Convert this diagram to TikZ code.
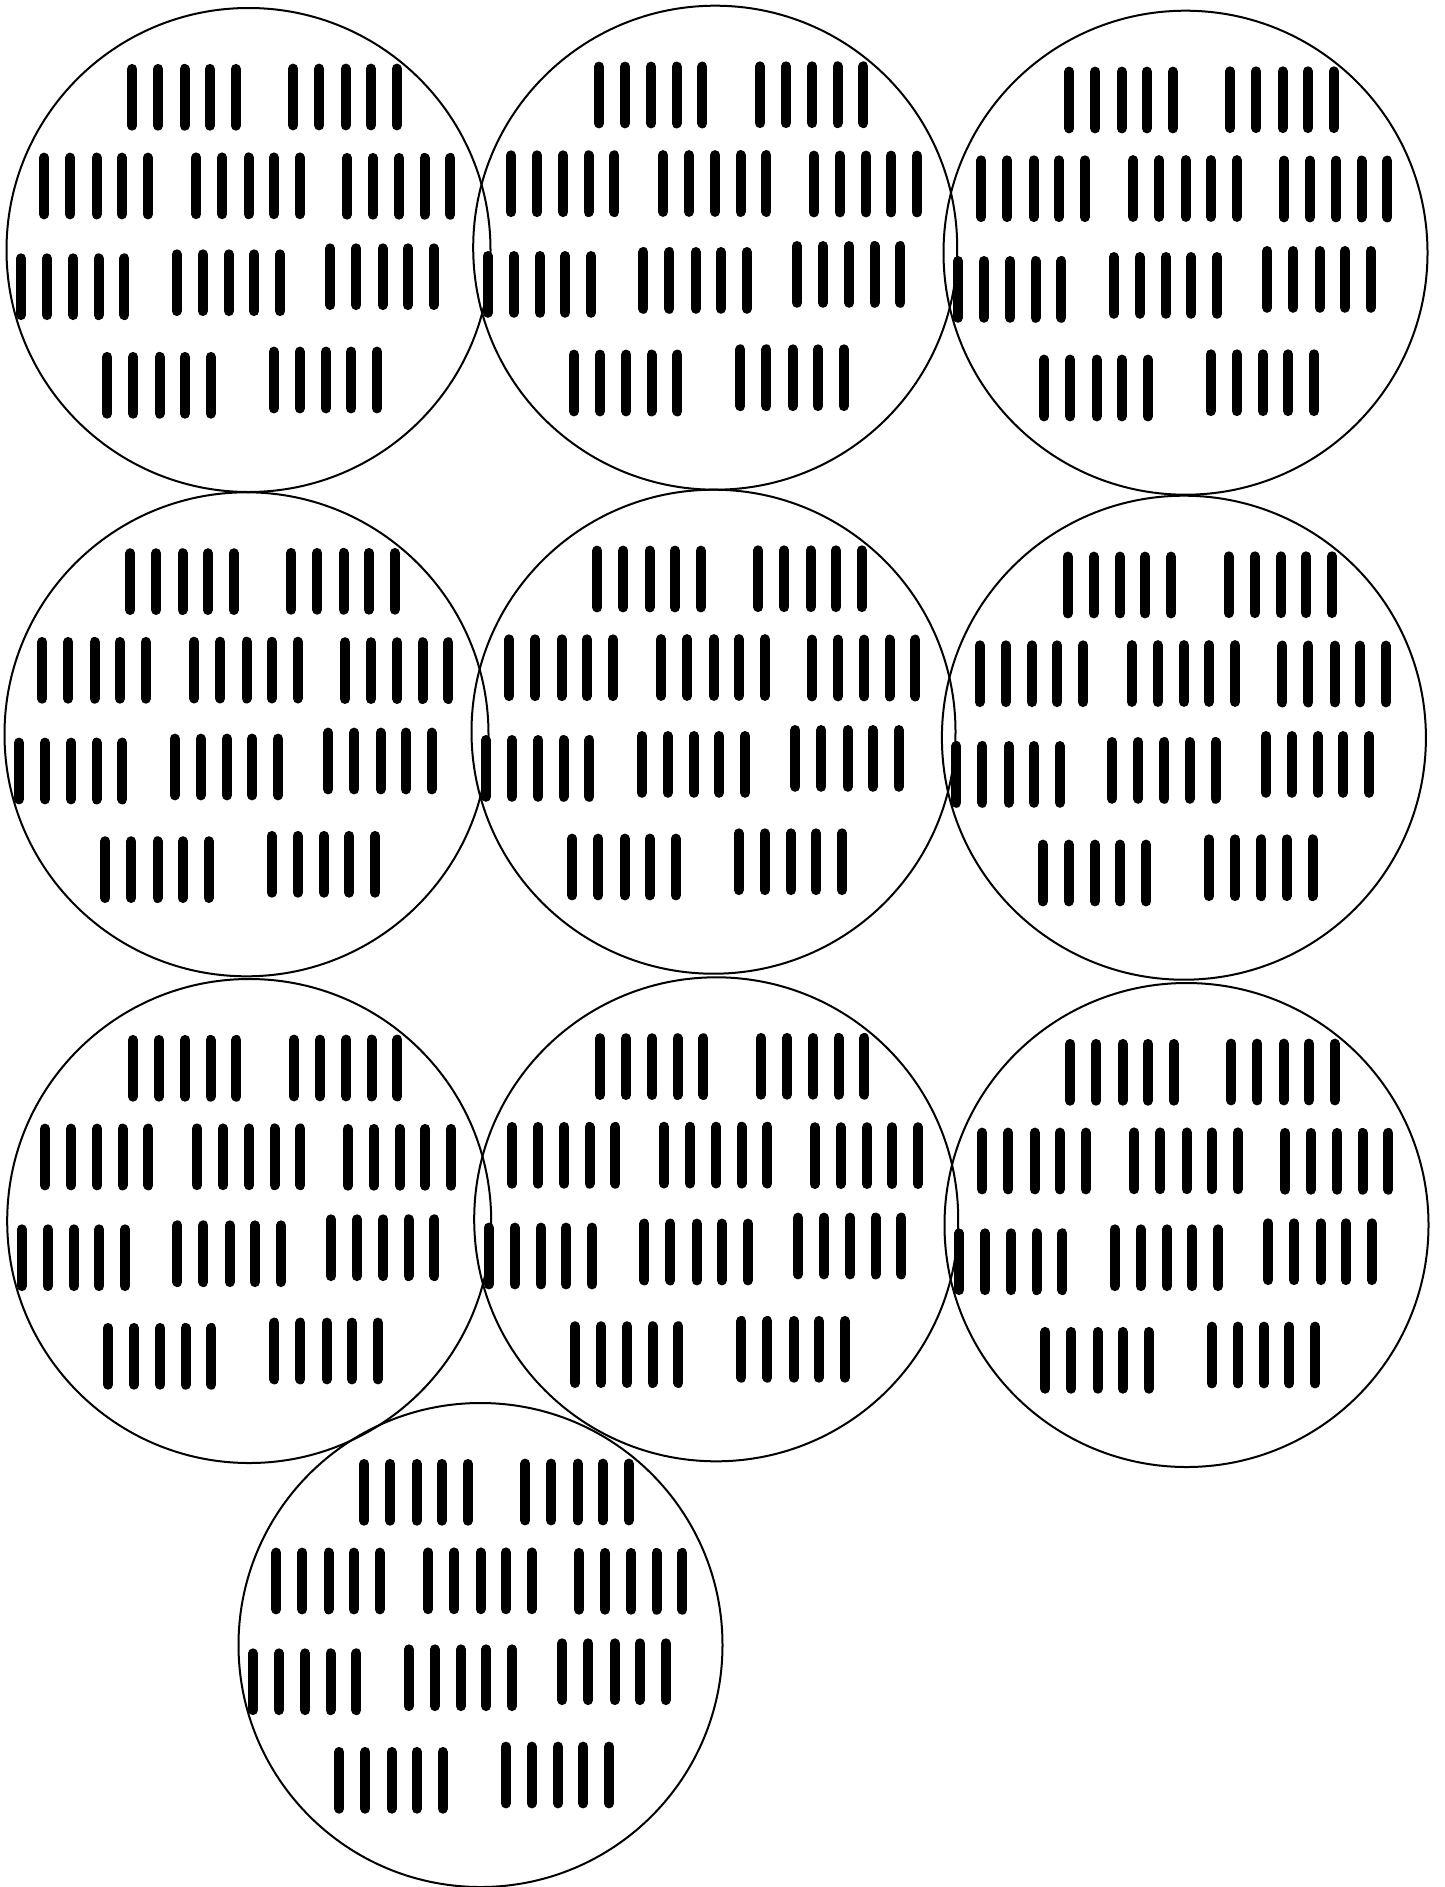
\documentclass[tikz,border=0pt]{standalone}
\begin{document}
\begin{tikzpicture}[x=1pt,y=-1pt,
  rim/.style={draw=black,line width=2pt},
  bar/.style={line width=10pt,line cap=round},
  tally/.pic={\foreach \d in {0,26,52.3,77.5,103.4} \draw[bar] (\d,-28.4) -- (\d,28.4);},
  coin/.pic={
    \draw[rim] (0,0) circle[radius=242pt];
    \foreach \gx/\gy in {-116.2/-152.7, 44.8/-153, -204.2/-64, -52.2/-64.2, 98.5/-63.7,
                         -227.5/36.7, -71.8/32.7, 81.8/26.7, -141.2/135.3, 25.2/130}
      \pic at (\gx,\gy) {tally};
  }]
\useasboundingbox (0,0) rectangle (1445,1887);
\pic at (248.5,250) {coin};
\pic at (715.2,247.7) {coin};
\pic at (1185.5,252.7) {coin};
\pic at (246.5,734.3) {coin};
\pic at (713.5,731.7) {coin};
\pic at (1183.9,737.7) {coin};
\pic at (249.2,1221) {coin};
\pic at (716.2,1219.3) {coin};
\pic at (1186.5,1225) {coin};
\pic at (480.5,1645) {coin};
\end{tikzpicture}
\end{document}
